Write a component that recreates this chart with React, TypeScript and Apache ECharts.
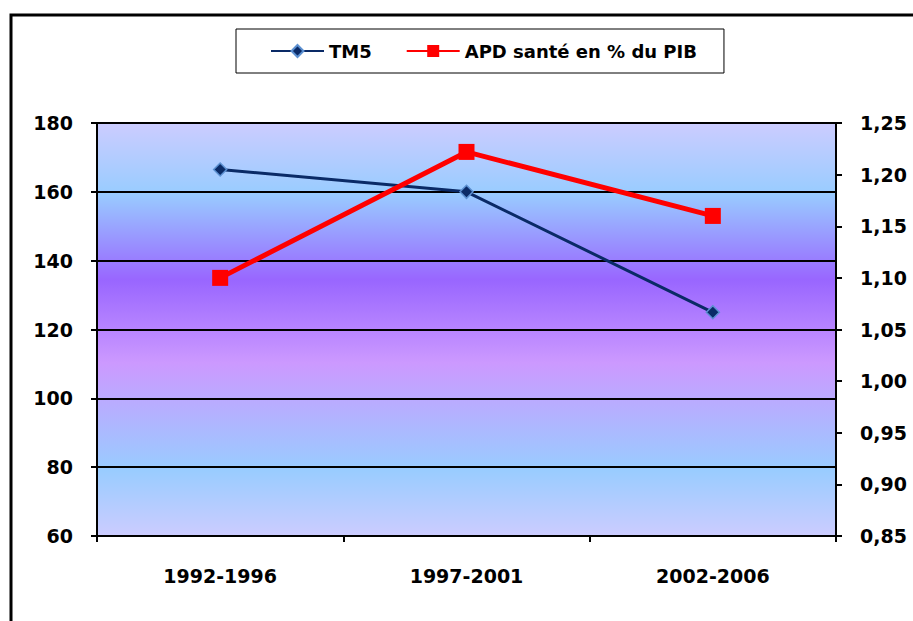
import React, { useEffect, useRef } from "react";
import * as echarts from "echarts";

const categories = ["1992-1996", "1997-2001", "2002-2006"];
const tm5Values = [166.5, 160, 125];
const apdValues = [1.1, 1.222, 1.16];
const seriesNames = ["TM5", "APD santé en % du PIB"];

const FONT = "DejaVu Sans";

export default function App() {
  const ref = useRef<HTMLDivElement>(null);
  useEffect(() => {
    if (!ref.current) return;
    const chart = echarts.init(ref.current, null, { renderer: "svg" });
    const labelStyle = {
      fontFamily: FONT,
      fontWeight: "bold" as const,
      fontSize: 19,
      color: "#000",
    };
    chart.setOption({
      animation: false,
      backgroundColor: "#fff",
      graphic: [
        {
          type: "rect",
          shape: { x: 11, y: 15, width: 1000, height: 800 },
          style: { fill: "none", stroke: "#000", lineWidth: 3 },
          silent: true,
        },
      ],
      legend: {
        top: 29,
        left: 236,
        padding: [13, 27, 13, 34],
        borderColor: "#000",
        borderWidth: 1,
        itemGap: 34,
        itemWidth: 53,
        itemHeight: 15,
        textStyle: { ...labelStyle, fontSize: 18 },
        data: seriesNames,
      },
      grid: {
        left: 97,
        right: 77,
        top: 123,
        bottom: 85,
        show: true,
        borderColor: "#808080",
        borderWidth: 1,
        backgroundColor: new echarts.graphic.LinearGradient(0, 0, 0, 1, [
          { offset: 0, color: "#ccccff" },
          { offset: 0.17, color: "#99ccff" },
          { offset: 0.38, color: "#9966ff" },
          { offset: 0.58, color: "#cc99ff" },
          { offset: 0.84, color: "#99ccff" },
          { offset: 1, color: "#ccccff" },
        ]),
      },
      xAxis: {
        type: "category",
        data: categories,
        boundaryGap: true,
        axisLine: { lineStyle: { color: "#000", width: 2 } },
        axisTick: { show: true, length: 6, lineStyle: { color: "#000", width: 2 } },
        axisLabel: { ...labelStyle, margin: 30 },
      },
      yAxis: [
        {
          type: "value",
          min: 60,
          max: 180,
          interval: 20,
          axisLine: { show: true, lineStyle: { color: "#000", width: 2 } },
          axisTick: { show: true, length: 6, lineStyle: { color: "#000", width: 2 } },
          splitLine: { show: true, lineStyle: { color: "#000", width: 2 } },
          axisLabel: { ...labelStyle, margin: 24 },
        },
        {
          type: "value",
          min: 0.85,
          max: 1.25,
          interval: 0.05,
          position: "right",
          axisLine: { show: true, lineStyle: { color: "#000", width: 2 } },
          axisTick: { show: true, length: 6, lineStyle: { color: "#000", width: 2 } },
          splitLine: { show: false },
          axisLabel: {
            ...labelStyle,
            margin: 24,
            formatter: (v: number) => v.toFixed(2).replace(".", ","),
          },
        },
      ],
      series: [
        {
          name: seriesNames[0],
          type: "line",
          yAxisIndex: 0,
          data: tm5Values,
          symbol: "diamond",
          symbolSize: 13,
          lineStyle: { color: "#0a2a66", width: 3 },
          itemStyle: { color: "#0a2a66", borderColor: "#5b8fd0", borderWidth: 1.5 },
          z: 3,
        },
        {
          name: seriesNames[1],
          type: "line",
          yAxisIndex: 1,
          data: apdValues,
          symbol: "rect",
          symbolSize: 16,
          lineStyle: { color: "#ff0000", width: 5 },
          itemStyle: { color: "#ff0000" },
          z: 4,
        },
      ],
    });
    return () => chart.dispose();
  }, []);
  return (
    <div
      ref={ref}
      style={{ position: "fixed", left: 0, top: 0, width: 913, height: 621 }}
    />
  );
}
